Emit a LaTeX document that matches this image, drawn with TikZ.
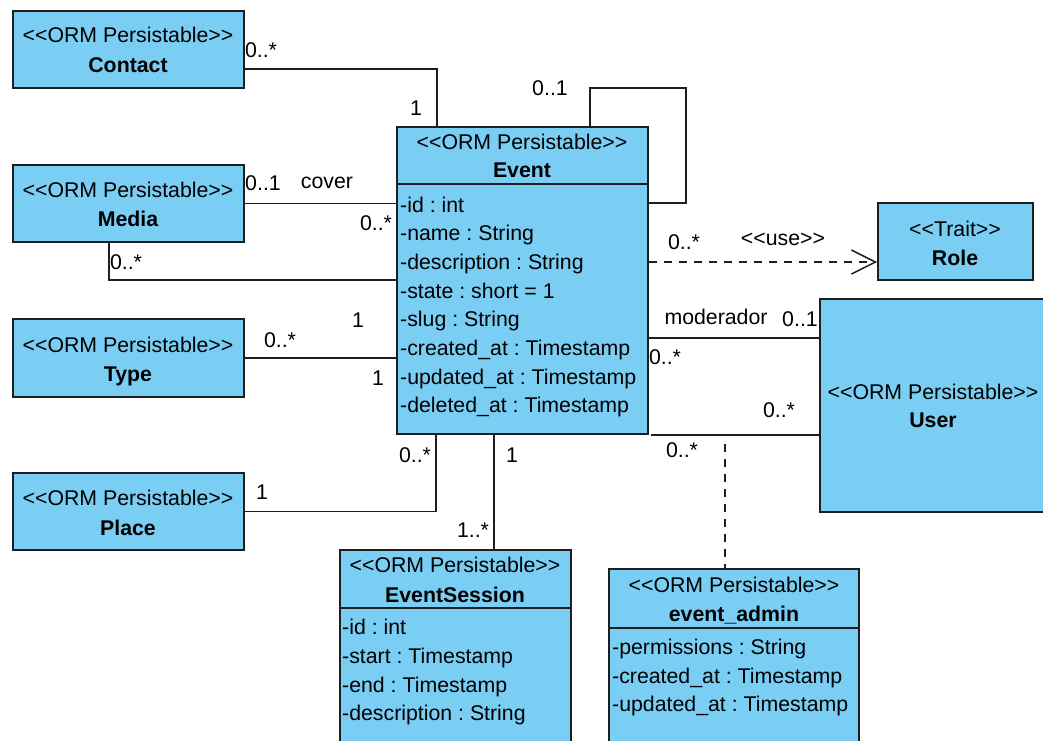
\documentclass[tikz,border=0pt]{standalone}
\usepackage{fontspec}
\newfontfamily\umlfont{Liberation Sans}
\usetikzlibrary{arrows.meta}
\definecolor{umlblue}{RGB}{122,206,244}
\definecolor{umlline}{RGB}{30,30,30}

\begin{document}
\frenchspacing
\begin{tikzpicture}[x=1pt,y=-1pt,
  cls/.style={draw=umlline, fill=umlblue, line width=1.8pt, inner sep=0pt},
  sepline/.style={draw=umlline, line width=1.8pt},
  txt/.style={font=\umlfont\fontsize{21.3}{25}\selectfont, inner sep=0pt, anchor=base},
  bold/.style={txt, font=\umlfont\fontsize{21.3}{25}\selectfont\bfseries},
  attr/.style={txt, anchor=base west},
  assoc/.style={draw=umlline, line width=1.5pt},
  depend/.style={assoc, dash pattern=on 8pt off 7pt}]

\useasboundingbox (0,0) rectangle (1043,740);
\clip (0,0) rectangle (1043,740);
\fill[white] (0,0) rectangle (1043,740);

% ---------- bend points of the connectors ----------
\coordinate (c1) at (437,69);
\coordinate (s1) at (590,88);
\coordinate (s2) at (686,203);
\coordinate (m2) at (109,280);
\coordinate (p1) at (436,511.5);
\coordinate (e1) at (494,490);
\coordinate (r1) at (700,262);
\coordinate (u1) at (700,338);
\coordinate (a1) at (725,434);

% ---------- classes ----------
\node[cls, minimum width=231pt, minimum height=77pt] (contact) at (128.5,49.5) {};
\node[cls, minimum width=231pt, minimum height=77pt] (media)   at (128.5,203.5) {};
\node[cls, minimum width=231pt, minimum height=78pt] (type)    at (128.5,358) {};
\node[cls, minimum width=231pt, minimum height=77pt] (place)   at (128.5,511.5) {};
\node[cls, minimum width=251pt, minimum height=307pt] (event)  at (522.5,280.5) {};
\node[cls, minimum width=155pt, minimum height=77pt] (role)    at (955.5,241.5) {};
\node[cls, minimum width=228pt, minimum height=213pt] (user)   at (934,405.5) {};
\node[cls, minimum width=231pt, minimum height=230pt] (es)     at (455.5,665) {};
\node[cls, minimum width=250pt, minimum height=230pt] (ea)     at (734,684) {};

% compartment separators
\coordinate (evsep) at (0,184);
\coordinate (essep) at (0,608);
\coordinate (easep) at (0,628);
\draw[sepline] (event.west |- evsep) -- (event.east |- evsep);
\draw[sepline] (es.west |- essep) -- (es.east |- essep);
\draw[sepline] (ea.west |- easep) -- (ea.east |- easep);

% class titles
\node[txt]  (contact-st) at (128,42.5) {<<ORM Persistable>>};
\node[bold] (contact-nm) at (128,72.5) {Contact};
\node[txt]  (media-st) at (128,197) {<<ORM Persistable>>};
\node[bold] (media-nm) at (128,226) {Media};
\node[txt]  (type-st) at (128,352) {<<ORM Persistable>>};
\node[bold] (type-nm) at (128,381) {Type};
\node[txt]  (place-st) at (128,505) {<<ORM Persistable>>};
\node[bold] (place-nm) at (128,535) {Place};
\node[txt]  (event-st) at (522,149) {<<ORM Persistable>>};
\node[bold] (event-nm) at (522,177) {Event};
\node[txt]  (role-st) at (955,236) {<<Trait>>};
\node[bold] (role-nm) at (955,265) {Role};
\node[txt]  (user-st) at (933,399) {<<ORM Persistable>>};
\node[bold] (user-nm) at (933,427) {User};
\node[txt]  (es-st) at (455,572) {<<ORM Persistable>>};
\node[bold] (es-nm) at (455,602) {EventSession};
\node[txt]  (ea-st) at (734,592) {<<ORM Persistable>>};
\node[bold] (ea-nm) at (734,621) {event\_admin};

% attributes
\node[attr] (ev-a1) at (400,212)   {-id : int};
\node[attr] (ev-a2) at (400,240.7) {-name : String};
\node[attr] (ev-a3) at (400,269.4) {-description : String};
\node[attr] (ev-a4) at (400,298.1) {-state : short = 1};
\node[attr] (ev-a5) at (400,326.8) {-slug : String};
\node[attr] (ev-a6) at (400,355.5) {-created\_at : Timestamp};
\node[attr] (ev-a7) at (400,384.2) {-updated\_at : Timestamp};
\node[attr] (ev-a8) at (400,412.9) {-deleted\_at : Timestamp};

\node[attr] (es-a1) at (342,634) {-id : int};
\node[attr] (es-a2) at (342,663) {-start : Timestamp};
\node[attr] (es-a3) at (342,692) {-end : Timestamp};
\node[attr] (es-a4) at (342,720) {-description : String};

\node[attr] (ea-a1) at (612,654) {-permissions : String};
\node[attr] (ea-a2) at (612,683) {-created\_at : Timestamp};
\node[attr] (ea-a3) at (612,711) {-updated\_at : Timestamp};

% ---------- associations ----------
\draw[assoc] (contact.east |- c1) -- (c1) -- (c1 |- event.north);
\draw[assoc] (s1 |- event.north) -- (s1) -- (s1 -| s2) -- (s2) -- (s2 -| event.east);
\draw[assoc] (media.east) -- (media.east -| event.west);
\draw[assoc] (m2 |- media.south) -- (m2) -- (m2 -| event.west);
\draw[assoc] (type.east) -- (type.east -| event.west);
\draw[assoc] (place.east) -- (p1) -- (p1 |- event.south);
\draw[assoc] (e1 |- event.south) -- (e1 |- es.north);
\draw[depend, -{Straight Barb[length=24pt, width=24pt, line width=1.5pt]}]
  (event.east |- r1) -- (role.west |- r1);
\draw[assoc] (u1 -| event.east) -- (u1 -| user.west);
\draw[assoc] ([xshift=2pt]event.south east) -- (event.south east -| user.west);
\draw[depend] ([yshift=-10pt]a1) -- (a1 |- ea.north);

% ---------- multiplicities and role names ----------
\node[txt] (l-contact-m) at (261,57)  {0..*};
\node[txt] (l-contact-e) at (416,115) {1};
\node[txt] (l-self)      at (550,95)  {0..1};
\node[txt] (l-cover-m)   at (263,190) {0..1};
\node[txt] (l-cover)     at (327,188) {cover};
\node[txt] (l-cover-e)   at (376,230) {0..*};
\node[txt] (l-media2)    at (126,269) {0..*};
\node[txt] (l-type-t)    at (280,347) {0..*};
\node[txt] (l-type-e1)   at (358,327) {1};
\node[txt] (l-type-e2)   at (378,385) {1};
\node[txt] (l-place-p)   at (262,499) {1};
\node[txt] (l-place-e)   at (415,462) {0..*};
\node[txt] (l-es-e)      at (512,462) {1};
\node[txt] (l-es-s)      at (473,537) {1..*};
\node[txt] (l-role-e)    at (684,249) {0..*};
\node[txt] (l-use)       at (783,245) {<<use>>};
\node[txt] (l-moder)     at (716,324) {moderador};
\node[txt] (l-moder-u)   at (800,326) {0..1};
\node[txt] (l-moder-e)   at (665,364) {0..*};
\node[txt] (l-admin-u)   at (779,417) {0..*};
\node[txt] (l-admin-e)   at (682,457) {0..*};
\end{tikzpicture}
\end{document}
